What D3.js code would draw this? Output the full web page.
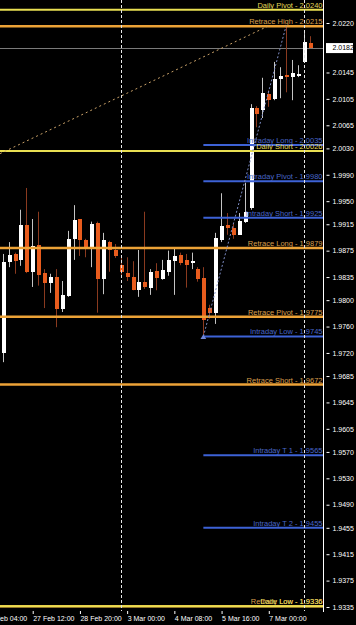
<!DOCTYPE html>
<html>
<head>
<meta charset="utf-8">
<title>4H chart with pivot levels</title>
<script src="https://cdn.jsdelivr.net/npm/d3@7"></script>
<style>
    body { margin: 0; background: #000; }
    #chart-area { width: 356px; height: 625px; }
    text { font-family: "Liberation Sans", Arial, sans-serif; }
</style>
</head>
<body>
<div id="chart-area"></div>
<script>

// 4H candles, oldest first
let opens = [
    1.9720, 1.9858, 1.9870, 1.9861, 1.9914, 1.9843, 1.9884, 1.9841, 1.9826, 1.9835,
    1.9787, 1.9806, 1.9893, 1.9923, 1.9891, 1.9879, 1.9917, 1.9832, 1.9888, 1.9876,
    1.9853, 1.9841, 1.9835, 1.9815, 1.9828, 1.9819, 1.9844, 1.9832, 1.9843, 1.9859,
    1.9868, 1.9861, 1.9856, 1.9847, 1.9834, 1.9788, 1.9781, 1.9891, 1.9914, 1.9909,
    1.9899, 1.9919, 1.9940, 2.0091, 2.0088, 2.0112, 2.0105, 2.0135, 2.0141, 2.0138,
    2.0140, 2.0161, 2.0190];
let highs = [
    1.9870, 1.9888, 1.9872, 1.9937, 1.9970, 1.9923, 1.9934, 1.9847, 1.9840, 1.9847,
    1.9829, 1.9905, 1.9944, 1.9923, 1.9893, 1.9919, 1.9919, 1.9902, 1.9890, 1.9885,
    1.9865, 1.9865, 1.9859, 1.9876, 1.9934, 1.9847, 1.9856, 1.9861, 1.9875, 1.9879,
    1.9872, 1.9870, 1.9872, 1.9850, 1.9850, 1.9793, 1.9902, 1.9962, 1.9932, 1.9917,
    1.9932, 1.9978, 2.0097, 2.0094, 2.0137, 2.0118, 2.0161, 2.0153, 2.0215, 2.0164,
    2.0156, 2.0205, 2.0200];
let lows = [
    1.9706, 1.9850, 1.9840, 1.9852, 1.9841, 1.9820, 1.9822, 1.9788, 1.9811, 1.9759,
    1.9782, 1.9805, 1.9861, 1.9867, 1.9865, 1.9850, 1.9781, 1.9809, 1.9843, 1.9864,
    1.9835, 1.9829, 1.9815, 1.9805, 1.9817, 1.9808, 1.9815, 1.9831, 1.9837, 1.9808,
    1.9853, 1.9819, 1.9847, 1.9828, 1.9745, 1.9772, 1.9764, 1.9888, 1.9899, 1.9893,
    1.9899, 1.9917, 1.9937, 2.0062, 2.0076, 2.0093, 2.0103, 2.0106, 2.0115, 2.0103,
    2.0138, 2.0161, 2.0182];
let closes = [
    1.9858, 1.9868, 1.9859, 1.9914, 1.9843, 1.9882, 1.9838, 1.9826, 1.9835, 1.9787,
    1.9808, 1.9893, 1.9921, 1.9891, 1.9879, 1.9916, 1.9832, 1.9891, 1.9876, 1.9867,
    1.9843, 1.9835, 1.9815, 1.9828, 1.9820, 1.9843, 1.9834, 1.9846, 1.9861, 1.9867,
    1.9856, 1.9853, 1.9859, 1.9832, 1.9770, 1.9781, 1.9894, 1.9912, 1.9909, 1.9899,
    1.9920, 1.9934, 2.0091, 2.0082, 2.0114, 2.0103, 2.0135, 2.0140, 2.0138, 2.0144,
    2.0143, 2.0191, 2.0182];

// pivot / retrace levels
let levelNames  = ["Daily Pivot", "Retrace High", "Intraday Long", "Daily Short", "Intraday Pivot",
                   "Intraday Short", "Retrace Long", "Retrace Pivot", "Intraday Low", "Retrace Short",
                   "Intraday T 1", "Intraday T 2", "Retrace Low", "Daily Low"];
let levelValues = [2.0240, 2.0215, 2.0035, 2.0026, 1.9980,
                   1.9925, 1.9879, 1.9775, 1.9745, 1.9672,
                   1.9565, 1.9455, 1.9336, 1.9336];
let levelKinds  = ["daily", "retrace", "intraday", "daily", "intraday",
                   "intraday", "retrace", "retrace", "intraday", "retrace",
                   "intraday", "intraday", "retrace", "daily"];
let intradayStartBar = 34;

let priceTicks = [2.0220, 2.0145, 2.0105, 2.0065, 2.0030, 1.9990, 1.9950, 1.9915, 1.9875, 1.9835,
                  1.9800, 1.9760, 1.9720, 1.9685, 1.9645, 1.9605, 1.9570, 1.9530, 1.9490, 1.9455,
                  1.9415, 1.9375, 1.9335];
let currentPrice = 2.0182;

let timeLabels    = ["26 Feb 04:00", "27 Feb 12:00", "28 Feb 20:00", "3 Mar 00:00", "4 Mar 08:00", "5 Mar 16:00", "7 Mar 00:00"];
let timeLabelBars = [-3, 5, 13, 21, 29, 37, 45];
let separatorBars = [20, 51];

// trend lines as [bar, price]
let retraceTrend  = [[-0.46, 2.0022], [44.9, 2.0215]];
let intradayTrend = [[34, 1.9745], [48, 2.0215]];


class CandleVis {

    constructor(parentElement) {
        this.parentElement = parentElement;
        this.initVis();
    }

    initVis() {
        let vis = this;

        vis.width = 356;
        vis.height = 625;
        vis.plotRight = 323;
        vis.plotBottom = 611;

        vis.svg = d3.select("#" + vis.parentElement).append("svg")
            .attr("width", vis.width)
            .attr("height", vis.height)
            .style("background", "#000")
            .style("display", "block");

        vis.x = d3.scaleLinear()
            .domain([0, closes.length - 1])
            .range([2.7, 309.6]);

        vis.y = d3.scaleLinear()
            .domain([2.0220, 1.9335])
            .range([23, 607]);

        vis.lineColor = {daily: "#e9df52", retrace: "#eca237", intraday: "#3d62d6"};
        vis.textColor = {daily: "#e4da5a", retrace: "#d99f4c", intraday: "#4866c8"};

        vis.wrangleData();
    }

    wrangleData() {
        let vis = this;

        vis.bars = closes.map((c, i) => ({i: i, o: opens[i], h: highs[i], l: lows[i], c: c}));
        vis.levels = levelNames.map((n, i) => ({name: n, value: levelValues[i], kind: levelKinds[i]}));

        vis.updateVis();
    }

    updateVis() {
        let vis = this;
        let cx = i => Math.round(vis.x(i));

        // current price line
        vis.svg.append("line")
            .attr("x1", 0).attr("x2", vis.plotRight)
            .attr("y1", Math.round(vis.y(currentPrice)) + 0.5)
            .attr("y2", Math.round(vis.y(currentPrice)) + 0.5)
            .attr("stroke", "#7a7a7a");

        // candles
        let candle = vis.svg.append("g").selectAll("g")
            .data(vis.bars)
            .enter().append("g");

        candle.append("line")
            .attr("x1", d => cx(d.i) + 0.5).attr("x2", d => cx(d.i) + 0.5)
            .attr("y1", d => vis.y(d.h)).attr("y2", d => vis.y(d.l))
            .attr("stroke", d => d.c >= d.o ? "#c4c4c4" : "#8a3a1f");

        candle.append("rect")
            .attr("x", d => cx(d.i) - 1.5)
            .attr("width", 4)
            .attr("y", d => vis.y(Math.max(d.o, d.c)))
            .attr("height", d => Math.max(1, Math.abs(vis.y(d.o) - vis.y(d.c))))
            .attr("fill", d => d.c >= d.o ? "#ffffff" : "#e85c1d")
            .attr("shape-rendering", "crispEdges");

        // levels
        vis.svg.append("g").selectAll("line")
            .data(vis.levels)
            .enter().append("line")
            .attr("x1", d => d.kind === "intraday" ? vis.x(intradayStartBar) : 0)
            .attr("x2", vis.plotRight)
            .attr("y1", d => vis.y(d.value))
            .attr("y2", d => vis.y(d.value))
            .attr("stroke", d => vis.lineColor[d.kind])
            .attr("stroke-width", d => d.kind === "retrace" ? 2.5 : 2);

        vis.svg.append("g").selectAll("text")
            .data(vis.levels)
            .enter().append("text")
            .attr("x", vis.plotRight - 0.5)
            .attr("y", d => vis.y(d.value) - 2)
            .attr("text-anchor", "end")
            .attr("font-size", "7.5px")
            .attr("fill", d => vis.textColor[d.kind])
            .text(d => d.name + " - " + d.value.toFixed(4));

        // trend lines
        let trend = d3.line()
            .x(d => vis.x(d[0]))
            .y(d => vis.y(d[1]));

        vis.svg.append("path")
            .attr("d", trend(retraceTrend))
            .attr("fill", "none")
            .attr("stroke", "#c9a168")
            .attr("stroke-dasharray", "2,3");

        vis.svg.append("path")
            .attr("d", trend(intradayTrend))
            .attr("fill", "none")
            .attr("stroke", "#7d8cc4")
            .attr("stroke-dasharray", "2,2");

        vis.svg.append("path")
            .attr("d", d3.symbol().type(d3.symbolTriangle).size(14)())
            .attr("transform", `translate(${vis.x(intradayTrend[0][0])}, ${vis.y(intradayTrend[0][1]) + 1})`)
            .attr("fill", "#6f86d8");

        // period separators
        vis.svg.append("g").selectAll("line")
            .data(separatorBars)
            .enter().append("line")
            .attr("x1", d => cx(d) + 0.5).attr("x2", d => cx(d) + 0.5)
            .attr("y1", 0).attr("y2", vis.plotBottom)
            .attr("stroke", "#e6e6e6")
            .attr("stroke-dasharray", "3,2");

        // right price axis
        vis.svg.append("line")
            .attr("x1", vis.plotRight + 0.5).attr("x2", vis.plotRight + 0.5)
            .attr("y1", 0).attr("y2", vis.plotBottom + 1)
            .attr("stroke", "#ffffff");

        vis.yAxis = d3.axisRight(vis.y)
            .tickValues(priceTicks)
            .tickSize(3)
            .tickPadding(3)
            .tickFormat(d3.format(".4f"));

        vis.yAxisGroup = vis.svg.append("g")
            .attr("class", "y-axis axis")
            .attr("transform", `translate(${vis.plotRight + 3.5}, 0)`)
            .call(vis.yAxis);

        vis.yAxisGroup.select(".domain").remove();
        vis.yAxisGroup.selectAll("line").attr("stroke", "#ffffff");
        vis.yAxisGroup.selectAll("text")
            .attr("fill", "#ffffff")
            .attr("font-size", "7px")
            .attr("font-family", "Liberation Sans, Arial, sans-serif");

        // current price box
        let py = vis.y(currentPrice);
        vis.svg.append("rect")
            .attr("x", vis.plotRight + 3)
            .attr("y", py - 5)
            .attr("width", 27)
            .attr("height", 10)
            .attr("fill", "#ffffff");

        vis.svg.append("text")
            .attr("x", vis.plotRight + 9.5)
            .attr("y", py)
            .attr("dy", "0.34em")
            .attr("font-size", "7px")
            .attr("fill", "#000")
            .text(currentPrice.toFixed(4));

        // bottom time axis
        vis.xAxis = d3.axisBottom(vis.x)
            .tickValues(timeLabelBars)
            .tickSize(3)
            .tickPadding(2)
            .tickFormat((d, i) => timeLabels[i]);

        vis.xAxisGroup = vis.svg.append("g")
            .attr("class", "x-axis axis")
            .attr("transform", `translate(0.5, ${vis.plotBottom})`)
            .call(vis.xAxis);

        vis.xAxisGroup.select(".domain").remove();
        vis.xAxisGroup.selectAll("line").attr("stroke", "#ffffff");
        vis.xAxisGroup.selectAll("text")
            .attr("text-anchor", "start")
            .attr("dx", "0")
            .attr("fill", "#ffffff")
            .attr("font-size", "7px")
            .attr("font-family", "Liberation Sans, Arial, sans-serif");
    }
}

let candleVis = new CandleVis("chart-area");

</script>
</body>
</html>
